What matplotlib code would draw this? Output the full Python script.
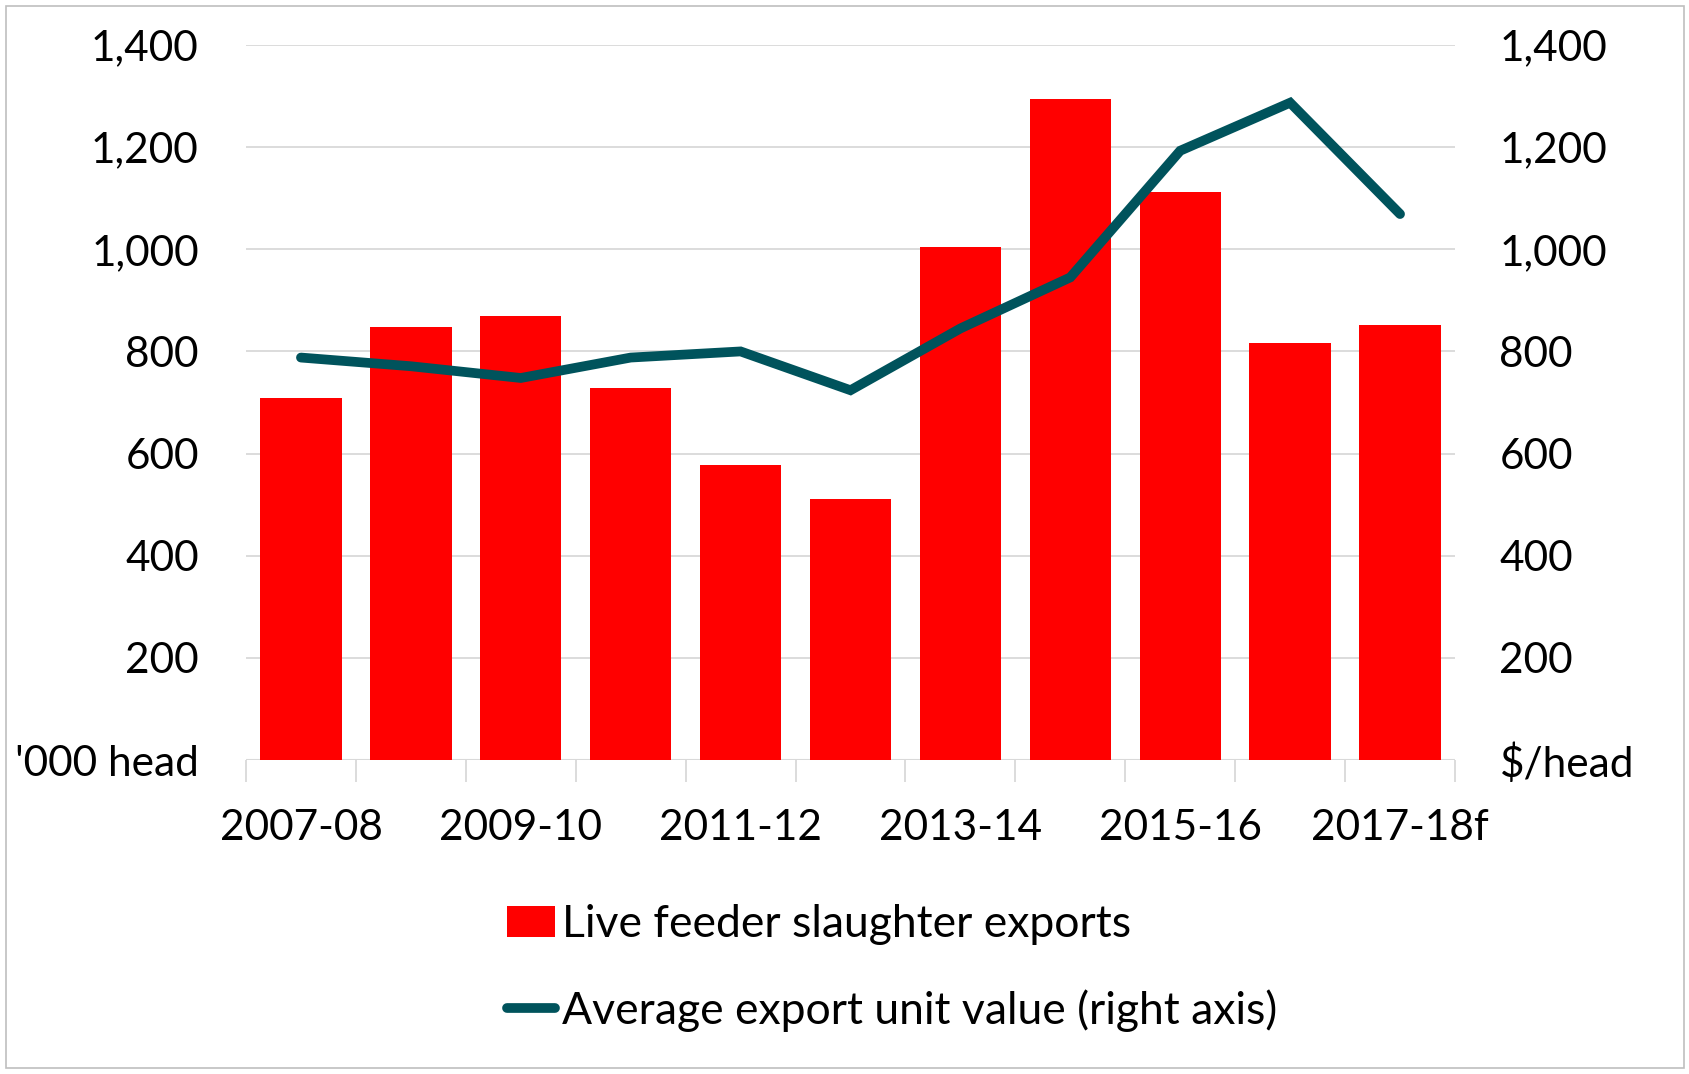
import numpy as np
import matplotlib
matplotlib.use("Agg")
import matplotlib.pyplot as plt
from matplotlib.patches import Rectangle

# Data
years = ["2007-08", "2008-09", "2009-10", "2010-11", "2011-12", "2012-13",
         "2013-14", "2014-15", "2015-16", "2016-17", "2017-18f"]
exports_k_head = [708, 847, 870, 729, 577, 511, 1005, 1295, 1113, 817, 851]
unit_value = [788, 771, 748, 788, 800, 724, 845, 945, 1193, 1287, 1069]
yticks = [0, 200, 400, 600, 800, 1000, 1200, 1400]

bar_color = "#FF0000"
line_color = "#00535C"
grid_color = "#D9D9D9"

plt.rcParams['font.family'] = ['Lato', 'DejaVu Sans']
fs = 30.5
fs_leg = 32

fig = plt.figure(figsize=(16.9, 10.74), dpi=100)
ax = fig.add_axes([246/1690, 1 - 760/1074, (1455 - 246)/1690, (760 - 45)/1074])
ax2 = ax.twinx()

x = np.arange(len(years))
bars = ax.bar(x, exports_k_head, width=0.74, color=bar_color, zorder=2,
              label="Live feeder slaughter exports")
line, = ax2.plot(x, unit_value, color=line_color, lw=7, solid_capstyle='round',
                 solid_joinstyle='miter', zorder=3,
                 label="Average export unit value (right axis)")

for a in (ax, ax2):
    a.set_ylim(0, 1400)
    a.set_yticks(yticks)
    for s in a.spines.values():
        s.set_visible(False)
ax.set_xlim(-0.5, len(years) - 0.5)

lbl = [f"{v:,}" for v in yticks]
ax.set_yticklabels(["'000 head"] + lbl[1:], fontsize=fs)
ax2.set_yticklabels(["$/head"] + lbl[1:], fontsize=fs)
ax.tick_params(axis='y', length=0, pad=34)
ax2.tick_params(axis='y', length=0, pad=32)

ax.yaxis.grid(True, color=grid_color, lw=1.3, zorder=0)
ax.set_axisbelow(True)
ax.axhline(0, color=grid_color, lw=1.5, zorder=1)

# labels every other category, tick marks at category boundaries
ax.set_xticks(x[::2])
ax.set_xticklabels(years[::2], fontsize=fs)
ax.set_xticks(np.arange(-0.5, len(years)), minor=True)
ax.tick_params(axis='x', which='major', length=0, pad=35)
ax.tick_params(axis='x', which='minor', length=16, width=1.3, color=grid_color)

fig.legend([bars, line], [bars.get_label(), line.get_label()],
           loc='center', bbox_to_anchor=(892/1690, 1 - 968/1074), ncol=1,
           frameon=False, fontsize=fs_leg, handlelength=1.1, handletextpad=0.15,
           labelspacing=1.0, borderpad=0)

fig.patches.append(Rectangle((6/1690, 6/1074), 1678/1690, 1062/1074,
                             transform=fig.transFigure, fill=False,
                             edgecolor="#BFBFBF", lw=1.2))

fig.savefig("out.png", dpi=100)
